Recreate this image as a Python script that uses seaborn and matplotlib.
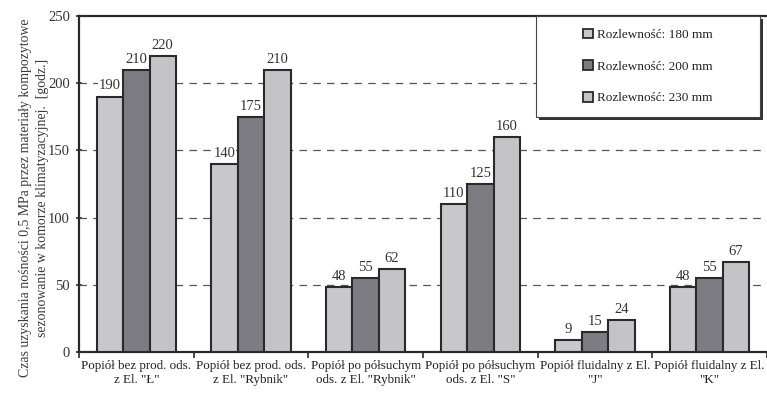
import numpy as np
import pandas as pd
import matplotlib
matplotlib.use("Agg")
import matplotlib.pyplot as plt
from matplotlib.patches import Rectangle, Patch
import seaborn as sns

categories = [
    'Popiół bez prod. ods.\nz El. "Ł"',
    'Popiół bez prod. ods.\nz El. "Rybnik"',
    'Popiół po półsuchym\nods. z El. "Rybnik"',
    'Popiół po półsuchym\nods. z El. "S"',
    'Popiół fluidalny z El.\n"J"',
    'Popiół fluidalny z El.\n"K"',
]
series = ["Rozlewność: 180 mm", "Rozlewność: 200 mm", "Rozlewność: 230 mm"]
values_180 = [190, 140, 48, 110, 9, 48]
values_200 = [210, 175, 55, 125, 15, 55]
values_230 = [220, 210, 62, 160, 24, 67]
y_ticks = [0, 50, 100, 150, 200, 250]
y_label = ("Czas uzyskania nośności 0,5 MPa przez materiały kompozytowe\n"
           "sezonowanie w komorze klimatyzacyjnej.  [godz.]")

colors = ["#c8c8cc", "#7c7c82", "#c3c3c8"]
ink = "#2a2a2a"

df = pd.DataFrame({
    "kategoria": np.repeat(categories, 3),
    "seria": series * len(categories),
    "czas": [v for trio in zip(values_180, values_200, values_230) for v in trio],
})

sns.set_theme(style="white")
plt.rcParams["font.family"] = ["Liberation Serif", "DejaVu Serif"]

fig = plt.figure(figsize=(7.67, 3.95), dpi=100)
ax = fig.add_axes([79 / 767, 43 / 395, 688 / 767, 336 / 395])

sns.barplot(data=df, x="kategoria", y="czas", hue="seria", hue_order=series,
            order=categories, palette=colors, width=0.69, edgecolor=ink,
            linewidth=1.5, saturation=1, legend=False, ax=ax, zorder=3)

for cont in ax.containers:
    labels = ax.bar_label(cont, fmt="%d", padding=3, fontsize=10.5,
                          color="#333333")
    for t in labels:
        t.set_bbox(dict(facecolor="white", edgecolor="none", pad=0.6))
        t.set_zorder(4)

ax.set_xlim(-0.5, len(categories) - 0.5)
ax.set_ylim(0, 250)
ax.set_yticks(y_ticks)
ax.set_yticklabels([str(t) for t in y_ticks], fontsize=10.5, color="#333333")
ax.set_xticks(range(len(categories)))
ax.set_xticklabels(categories, fontsize=9.4, color="#222222", linespacing=1.2)
ax.tick_params(axis="x", which="major", length=0, pad=6)
ax.set_xticks(np.arange(-0.5, len(categories), 1.0), minor=True)
ax.tick_params(axis="x", which="minor", length=4, width=1.2, direction="out",
               color=ink, bottom=True)
ax.tick_params(axis="y", length=5, width=1.2, direction="inout", color=ink,
               left=True, pad=4)
ax.set_xlabel("")
ax.set_ylabel(y_label, fontsize=9.9, color="#3a3a3a", linespacing=1.35)
ax.yaxis.set_label_coords(-0.044, 0.46)

for y in y_ticks[1:-1]:
    ax.axhline(y, color="#555555", lw=0.9, ls=(0, (6, 5)), zorder=1)

for side in ("left", "bottom", "top"):
    ax.spines[side].set_visible(True)
    ax.spines[side].set_color(ink)
    ax.spines[side].set_linewidth(1.6)
ax.spines["right"].set_visible(False)

# legend box with a drop shadow
x0, x1 = (536 - 79) / 688, (760 - 79) / 688
y0, y1 = (352 - 117) / 336, 1.0
dx, dy = 3 / 688, 3 / 336
ax.add_patch(Rectangle((x0 + dx, y0 - dy), x1 - x0, y1 - y0,
                       transform=ax.transAxes, facecolor="#333333",
                       edgecolor="none", zorder=5, clip_on=False))
ax.add_patch(Rectangle((x0, y0), x1 - x0, y1 - y0, transform=ax.transAxes,
                       facecolor="white", edgecolor="#444444", lw=0.8,
                       zorder=6, clip_on=False))
handles = [Patch(facecolor=c, edgecolor=ink, lw=1.3) for c in colors]
leg = ax.legend(handles, series, loc="center",
                bbox_to_anchor=((x0 + x1) / 2, (y0 + y1) / 2),
                frameon=False, fontsize=9.5, handlelength=0.75,
                handleheight=0.75, handletextpad=0.3, labelspacing=1.45)
leg.set_zorder(7)
for t in leg.get_texts():
    t.set_color("#222222")

fig.savefig("out.png", dpi=100, facecolor="white")
